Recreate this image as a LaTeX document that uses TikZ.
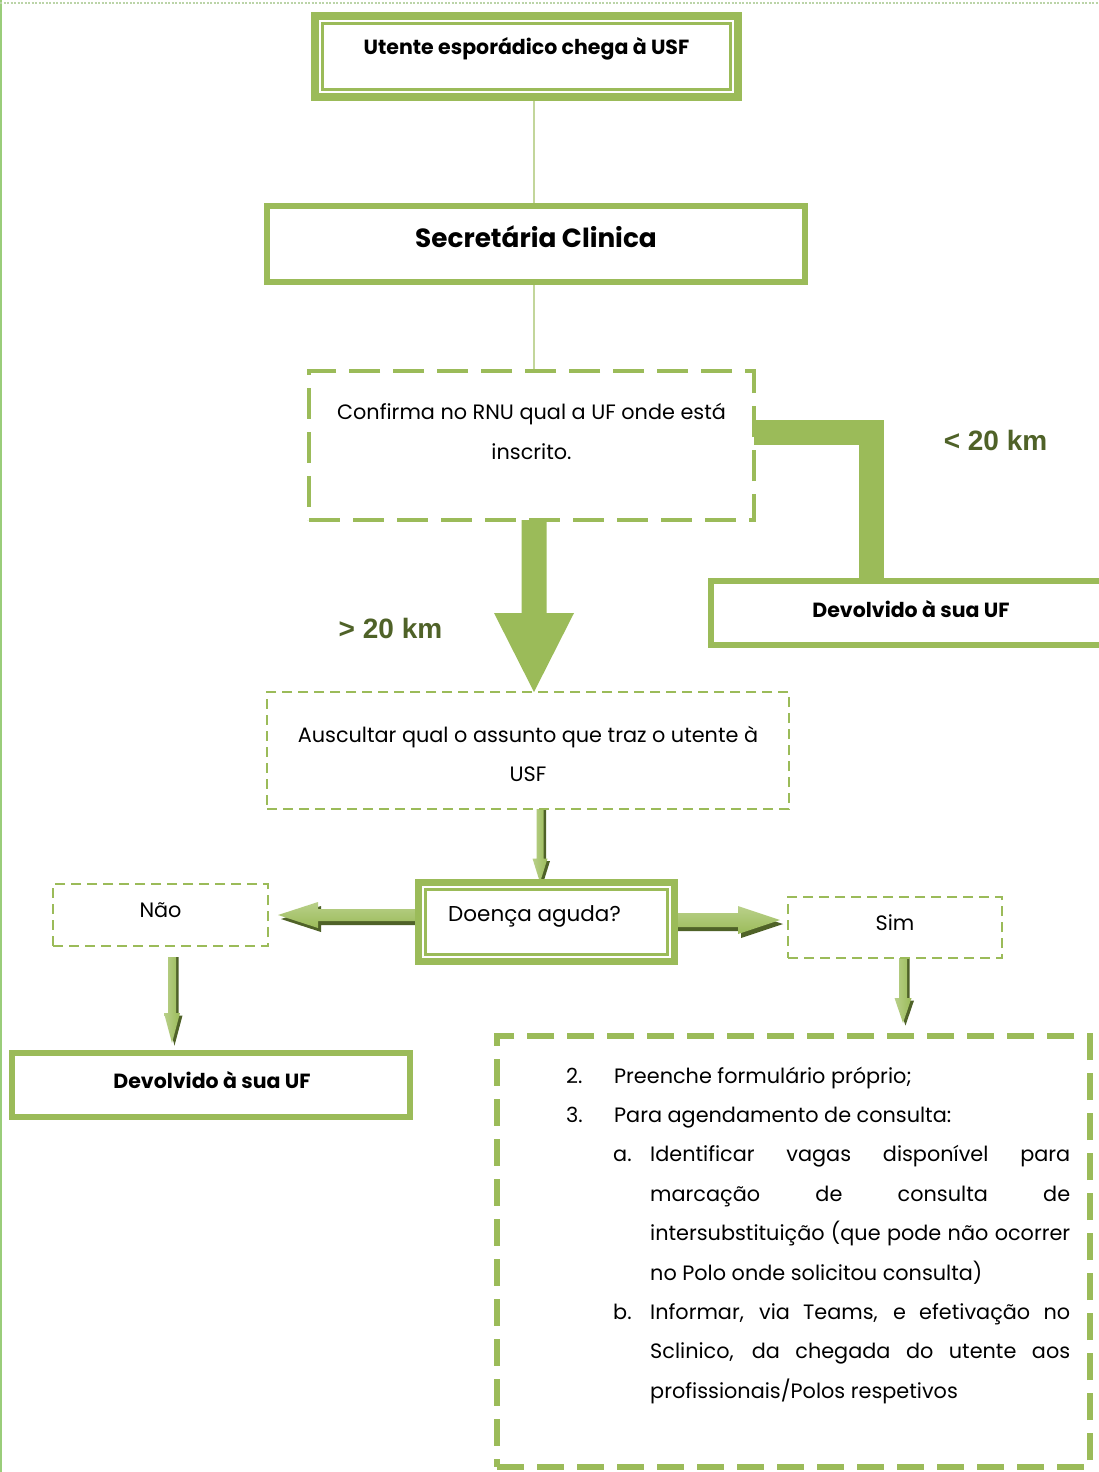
\documentclass[tikz,border=0pt]{standalone}
\usepackage{fontspec}
\setmainfont{Poppins}
\newfontfamily\arialfont{Liberation Sans}
\usetikzlibrary{calc}

\definecolor{og}{HTML}{9BBB59}
\definecolor{ogdark}{HTML}{4F6228}
\definecolor{oglight}{HTML}{C3D69B}
\definecolor{ogtop}{HTML}{B9D08A}
\definecolor{pageedge}{HTML}{9ACD7A}
\definecolor{pagedots}{HTML}{BBD4A8}

\pgfdeclarelayer{bg}
\pgfdeclarelayer{paper}
\pgfsetlayers{paper,bg,main}

% down-pointing block arrow with a dark drop shadow
% #1 start, #2 tip, #3 shaft half width, #4 head half width, #5 head length
\newcommand\vblock[5]{%
  \fill[ogdark] let \p1=#1, \p2=#2 in
    (\x1-#3pt+2.5pt,\y1) -- (\x1+#3pt+2.5pt,\y1) -- (\x1+#3pt+2.5pt,\y2+#5pt-2.5pt)
    -- (\x1+#4pt+2.5pt,\y2+#5pt-2.5pt) -- (\x1+2.5pt,\y2-2.5pt)
    -- (\x1-#4pt+2.5pt,\y2+#5pt-2.5pt) -- (\x1-#3pt+2.5pt,\y2+#5pt-2.5pt) -- cycle;
  \shade[left color=ogtop, right color=og] let \p1=#1, \p2=#2 in
    (\x1-#3pt,\y1) -- (\x1+#3pt,\y1) -- (\x1+#3pt,\y2+#5pt)
    -- (\x1+#4pt,\y2+#5pt) -- (\x1,\y2)
    -- (\x1-#4pt,\y2+#5pt) -- (\x1-#3pt,\y2+#5pt) -- cycle;
}
% left-pointing block arrow with shadow
\newcommand\lblock[5]{%
  \fill[ogdark] let \p1=#1, \p2=#2 in
    (\x1,\y1+#3pt-4pt) -- (\x2+#5pt+3pt,\y1+#3pt-4pt) -- (\x2+#5pt+3pt,\y1+#4pt-4pt)
    -- (\x2+3pt,\y1-4pt) -- (\x2+#5pt+3pt,\y1-#4pt-4pt)
    -- (\x2+#5pt+3pt,\y1-#3pt-4pt) -- (\x1,\y1-#3pt-4pt) -- cycle;
  \shade[top color=ogtop, bottom color=og] let \p1=#1, \p2=#2 in
    (\x1,\y1+#3pt) -- (\x2+#5pt,\y1+#3pt) -- (\x2+#5pt,\y1+#4pt)
    -- (\x2,\y1) -- (\x2+#5pt,\y1-#4pt)
    -- (\x2+#5pt,\y1-#3pt) -- (\x1,\y1-#3pt) -- cycle;
}
% right-pointing block arrow with shadow
\newcommand\rblock[5]{%
  \fill[ogdark] let \p1=#1, \p2=#2 in
    (\x1,\y1+#3pt-4pt) -- (\x2-#5pt+3pt,\y1+#3pt-4pt) -- (\x2-#5pt+3pt,\y1+#4pt-4pt)
    -- (\x2+3pt,\y1-4pt) -- (\x2-#5pt+3pt,\y1-#4pt-4pt)
    -- (\x2-#5pt+3pt,\y1-#3pt-4pt) -- (\x1,\y1-#3pt-4pt) -- cycle;
  \shade[top color=ogtop, bottom color=og] let \p1=#1, \p2=#2 in
    (\x1,\y1+#3pt) -- (\x2-#5pt,\y1+#3pt) -- (\x2-#5pt,\y1+#4pt)
    -- (\x2,\y1) -- (\x2-#5pt,\y1-#4pt)
    -- (\x2-#5pt,\y1-#3pt) -- (\x1,\y1-#3pt) -- cycle;
}
% flat wide arrow pointing down
\newcommand\bigdown[5]{%
  \fill[og] let \p1=#1, \p2=#2 in
    (\x1-#3pt,\y1) -- (\x1+#3pt,\y1) -- (\x1+#3pt,\y2+#5pt)
    -- (\x1+#4pt,\y2+#5pt) -- (\x1,\y2)
    -- (\x1-#4pt,\y2+#5pt) -- (\x1-#3pt,\y2+#5pt) -- cycle;
}

\tikzset{
  solidbox/.style={draw=og, line width=#1, fill=white, inner sep=0pt, outer sep=0pt},
  thickdash/.style={draw=og, line width=4pt, dash pattern=on 31pt off 13pt, fill=white, inner sep=0pt, outer sep=0pt},
  thindash/.style={draw=og, line width=2.5pt, dash pattern=on 10pt off 6pt, fill=white, inner sep=0pt, outer sep=0pt},
  bigdash/.style={draw=og, line width=6pt, dash pattern=on 27pt off 13pt, fill=white, inner sep=0pt, outer sep=0pt},
  conn/.style={draw=oglight, line width=2pt},
  elbow/.style={draw=og, line width=25pt},
  boldtxt/.style={font=\bfseries\fontsize{20.5}{24}\selectfont},
  regtxt/.style={font=\fontsize{20.8}{24}\selectfont},
  kmtxt/.style={font=\arialfont\bfseries\fontsize{28}{30}\selectfont, text=ogdark},
}

\begin{document}
\begin{tikzpicture}[x=1pt, y=-1pt]
\useasboundingbox (0,0) rectangle (1099,1472);
\clip (0,0) rectangle (1099,1472);
\begin{pgfonlayer}{paper}
  \fill[white] (0,0) rectangle (1099,1472);
\end{pgfonlayer}

% page edges
\draw[pageedge, line width=2pt] (1,0) -- (1,1472);
\draw[pagedots, line width=1.5pt, dash pattern=on 2pt off 1.5pt] (0,3) -- (1099,3);

% boxes
\node[solidbox=8pt, minimum width=423pt, minimum height=81pt,
  label={[boldtxt, yshift=7.5pt]center:Utente esporádico chega à USF}] (box1) at (526.5,56.5) {};
\draw[og, line width=3pt] ([shift={(7.5pt,-7.5pt)}]box1.north west) rectangle ([shift={(-7.5pt,7.5pt)}]box1.south east);

\node[solidbox=6pt, minimum width=538pt, minimum height=76pt,
  label={[font=\bfseries\fontsize{26.3}{30}\selectfont, yshift=7pt]center:Secretária Clinica}] (sec) at (536,244) {};

\node[thickdash, minimum width=445pt, minimum height=149pt,
  label={[align=center, font=\fontsize{20.8}{40}\selectfont, yshift=14.5pt]center:Confirma no RNU qual a UF onde está\\inscrito.}] (conf) at (531.5,445.5) {};

\node[solidbox=6pt, minimum width=404pt, minimum height=64pt,
  label={[boldtxt, yshift=4pt, xshift=-2pt]center:Devolvido à sua UF}] (dev1) at (913,613) {};

\node[thindash, minimum width=522pt, minimum height=117pt,
  label={[align=center, font=\fontsize{20.8}{39}\selectfont, yshift=-3pt]center:Auscultar qual o assunto que traz o utente à\\USF}] (aus) at (528,750.5) {};

\node[solidbox=7pt, minimum width=256pt, minimum height=79pt,
  label={[font=\fontsize{21.5}{24}\selectfont, xshift=-12pt, yshift=6pt]center:Doença aguda?}] (doenca) at (546.5,922) {};
\draw[og, line width=3pt] ([shift={(7pt,-7pt)}]doenca.north west) rectangle ([shift={(-7pt,7pt)}]doenca.south east);

\node[thindash, minimum width=215pt, minimum height=62pt,
  label={[regtxt, yshift=5pt]center:Não}] (nao) at (160.5,915) {};

\node[thindash, minimum width=214pt, minimum height=61pt,
  label={[regtxt, yshift=4.5pt]center:Sim}] (sim) at (895,927.5) {};

\node[solidbox=6pt, minimum width=398pt, minimum height=64pt,
  label={[boldtxt, yshift=5pt, xshift=1pt]center:Devolvido à sua UF}] (dev2) at (211,1085) {};

\node[bigdash, minimum width=593pt, minimum height=431pt] (big) at (793.5,1251.5) {};

\node[anchor=base west, inner sep=0pt, font=\fontsize{20.8}{39.4}\selectfont] (lst) at (566,1083) {\parbox[t]{512pt}{%
\makebox[48pt][l]{2.}Preenche formulário próprio;\\
\makebox[48pt][l]{3.}Para agendamento de consulta:\\
\hspace*{47pt}\makebox[37pt][l]{a.}\makebox[420pt][s]{Identificar vagas disponível para}\\
\hspace*{84pt}\makebox[420pt][s]{marcação de consulta de}\\
\hspace*{84pt}\makebox[420pt][s]{intersubstituição (que pode não ocorrer}\\
\hspace*{84pt}no Polo onde solicitou consulta)\\
\hspace*{47pt}\makebox[37pt][l]{b.}\makebox[420pt][s]{Informar, via Teams, e efetivação no}\\
\hspace*{84pt}\makebox[420pt][s]{Sclinico, da chegada do utente aos}\\
\hspace*{84pt}profissionais/Polos respetivos}};

% distance labels
\node[kmtxt] (lt) at (995.5,440) {< 20 km};
\node[kmtxt] (gt) at (390.5,628) {> 20 km};

% connectors
\begin{pgfonlayer}{bg}
  \coordinate (c1) at ([xshift=7.5pt]box1.south);
  \draw[conn] (c1) -- (c1 |- sec.north);
  \coordinate (c2) at ([xshift=-2pt]sec.south);
  \draw[conn] (c2) -- (c2 |- conf.north);

  \coordinate (bend) at (871,432.5);
  \draw[elbow] (bend -| conf.east) -- (bend) -- (bend |- dev1.north);

  \bigdown{([xshift=2.5pt]conf.south)}{(aus.north)}{12.5}{40}{79}
  \vblock{([xshift=12pt]aus.south)}{(doenca.north)}{3.5}{7.5}{24}
  \lblock{([yshift=7pt]doenca.west)}{([xshift=10pt]nao.east)}{6}{13}{40}
  \rblock{([yshift=2pt]doenca.east)}{([xshift=-8pt]sim.west)}{7}{14}{42}
  \vblock{([xshift=11.5pt,yshift=-11pt]nao.south)}{([yshift=10pt]dev2.north)}{4}{8}{30}
  \vblock{([xshift=8pt]sim.south)}{([yshift=13pt]big.north)}{4}{8.5}{25}
\end{pgfonlayer}
\end{tikzpicture}
\end{document}
